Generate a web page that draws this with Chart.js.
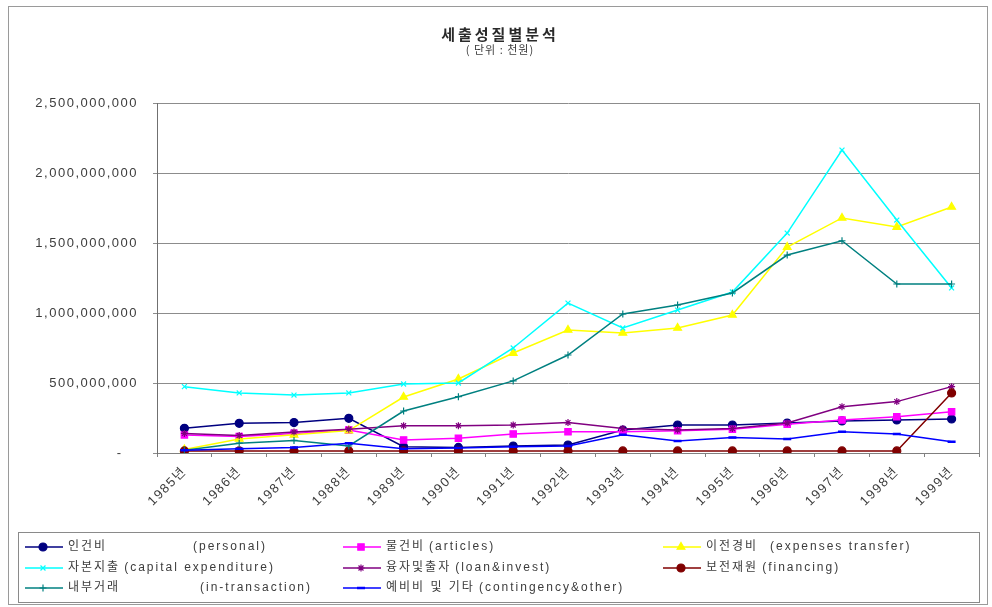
<!DOCTYPE html>
<html>
<head>
<meta charset="utf-8">
<script src="https://cdn.jsdelivr.net/npm/chart.js@4.4.0/dist/chart.umd.min.js"></script>
<style>
  html, body { margin: 0; padding: 0; background: #ffffff; }
  canvas { display: block; }
</style>
</head>
<body>
<canvas id="chart" width="992" height="607"></canvas>
<script>
// 세출 성질별 분석 (단위: 천원), 1985~1999
const years = ['1985년', '1986년', '1987년', '1988년', '1989년', '1990년', '1991년', '1992년',
               '1993년', '1994년', '1995년', '1996년', '1997년', '1998년', '1999년'];

const personal      = [176000000, 212000000, 217000000, 248000000, 45000000, 40000000, 50000000, 57000000,
                       164000000, 200000000, 200000000, 214000000, 229000000, 236000000, 243000000];
const articles      = [129000000, 117000000, 140000000, 164000000, 93000000, 105000000, 136000000, 152000000,
                       152000000, 159000000, 169000000, 205000000, 236000000, 259000000, 295000000];
const transfer      = [25000000, 100000000, 130000000, 160000000, 400000000, 529000000, 714000000, 879000000,
                       857000000, 893000000, 986000000, 1471000000, 1679000000, 1614000000, 1757000000];
const capital       = [474000000, 429000000, 414000000, 429000000, 493000000, 500000000, 750000000, 1071000000,
                       893000000, 1021000000, 1150000000, 1571000000, 2164000000, 1664000000, 1179000000];
const loanInvest    = [140000000, 125000000, 150000000, 170000000, 195000000, 195000000, 200000000, 217000000,
                       175000000, 165000000, 175000000, 214000000, 331000000, 367000000, 474000000];
const financing     = [15000000, 15000000, 15000000, 15000000, 15000000, 15000000, 15000000, 15000000,
                       15000000, 15000000, 15000000, 15000000, 15000000, 15000000, 429000000];
const inTransaction = [20000000, 70000000, 90000000, 50000000, 300000000, 402000000, 515000000, 700000000,
                       993000000, 1057000000, 1143000000, 1414000000, 1516000000, 1207000000, 1207000000];
const contingency   = [20000000, 30000000, 40000000, 70000000, 30000000, 35000000, 45000000, 50000000,
                       130000000, 86000000, 110000000, 100000000, 152000000, 136000000, 81000000];

const yTicks = { min: 0, max: 2500000000, step: 500000000 };

const seriesKor = ['인건비', '물건비', '이전경비', '자본지출', '융자및출자', '보전재원', '내부거래', '예비비 및 기타'];
const seriesEng = ['(personal)', '(articles)', '(expenses transfer)', '(capital expenditure)',
                   '(loan&invest)', '(financing)', '(in-transaction)', '(contingency&other)'];
const seriesData = [personal, articles, transfer, capital, loanInvest, financing, inTransaction, contingency];

// classic spreadsheet series palette and markers
const colors  = ['#000080', '#ff00ff', '#ffff00', '#00ffff', '#800080', '#800000', '#008080', '#0000ff'];
const markers = ['circle', 'rect', 'triangle', 'crossRot', 'star', 'circle', 'cross', 'line'];
const radii   = [4, 4.5, 4.5, 3.5, 3.5, 4, 3.5, 4];

const AFONT = '"Liberation Sans", "Noto Sans CJK KR", sans-serif';
const TEXT = '#3c3c3c';

const datasets = seriesData.map((d, i) => ({
  label: seriesKor[i] + ' ' + seriesEng[i],
  data: d,
  borderColor: colors[i],
  backgroundColor: colors[i],
  borderWidth: 1.5,
  pointStyle: markers[i],
  pointRadius: radii[i],
  pointBorderWidth: markers[i] === 'line' ? 2.5 : 1.2,
  pointBackgroundColor: colors[i],
  pointBorderColor: colors[i],
  tension: 0,
  fill: false,
  order: seriesData.length - i
}));

// wider spacing for the axis labels
const spacing = {
  id: 'spacing',
  beforeDraw(chart) { chart.ctx.letterSpacing = '1.5px'; },
  afterDraw(chart) { chart.ctx.letterSpacing = '0px'; }
};

// title, plot frame, legend box and outer frame
const decor = {
  id: 'decor',
  afterDraw(chart) {
    const ctx = chart.ctx;
    const a = chart.chartArea;
    ctx.save();

    // outer frame
    ctx.strokeStyle = '#9a9a9a';
    ctx.lineWidth = 1;
    ctx.strokeRect(8.5, 6.5, 979, 598);

    // plot area right edge
    ctx.strokeStyle = '#8c8c8c';
    ctx.beginPath();
    ctx.moveTo(Math.round(a.right) + 0.5, a.top);
    ctx.lineTo(Math.round(a.right) + 0.5, a.bottom);
    ctx.stroke();

    // title
    ctx.fillStyle = '#2a2a2a';
    ctx.textAlign = 'center';
    ctx.textBaseline = 'middle';
    ctx.letterSpacing = '3px';
    ctx.font = 'bold 15px "Noto Sans CJK KR", sans-serif';
    ctx.fillText('세출성질별분석', 500, 34);
    ctx.letterSpacing = '1px';
    ctx.font = '11px "Noto Sans CJK KR", sans-serif';
    ctx.fillStyle = TEXT;
    ctx.fillText('( 단위 : 천원)', 500, 50);

    // legend
    ctx.letterSpacing = '0px';
    ctx.strokeStyle = '#8a8a8a';
    ctx.strokeRect(18.5, 532.5, 961, 70);
    const colX = [25, 343, 663];
    const rowY = [547, 568, 588];
    const engX = { 0: 193, 2: 770, 6: 200 };
    chart.data.datasets.forEach((ds, i) => {
      const x = colX[i % 3];
      const y = rowY[Math.floor(i / 3)];
      ctx.strokeStyle = ds.borderColor;
      ctx.lineWidth = 1.5;
      ctx.beginPath();
      ctx.moveTo(x, y);
      ctx.lineTo(x + 38, y);
      ctx.stroke();
      ctx.fillStyle = ds.pointBackgroundColor;
      ctx.strokeStyle = ds.pointBorderColor;
      ctx.lineWidth = ds.pointBorderWidth;
      Chart.helpers.drawPoint(ctx, {
        pointStyle: ds.pointStyle, radius: ds.pointRadius, rotation: 0, borderWidth: ds.pointBorderWidth
      }, x + 18, y);

      ctx.fillStyle = TEXT;
      ctx.textAlign = 'left';
      ctx.textBaseline = 'middle';
      ctx.font = '12px ' + AFONT;
      ctx.letterSpacing = '2px';
      const tx = x + 43;
      ctx.fillText(seriesKor[i], tx, y);
      const kw = ctx.measureText(seriesKor[i]).width;
      ctx.letterSpacing = '2px';
      const ex = engX[i] !== undefined ? engX[i] : tx + kw + 4;
      ctx.fillText(seriesEng[i], ex, y);
    });
    ctx.restore();
  }
};

new Chart(document.getElementById('chart').getContext('2d'), {
  type: 'line',
  data: { labels: years, datasets },
  options: {
    responsive: false,
    animation: false,
    layout: { padding: { top: 103, right: 13, left: 0, bottom: 0 } },
    plugins: {
      legend: { display: false },
      title: { display: false },
      tooltip: { enabled: false }
    },
    scales: {
      x: {
        offset: true,
        grid: { offset: true, drawOnChartArea: false, drawTicks: true, tickLength: 4, color: '#808080' },
        border: { color: '#808080' },
        ticks: {
          autoSkip: false, maxRotation: 45, minRotation: 45, padding: 7,
          color: TEXT, font: { family: AFONT, size: 13 }
        },
        afterFit(s) { s.height = 154; }
      },
      y: {
        min: yTicks.min,
        max: yTicks.max,
        ticks: {
          stepSize: yTicks.step,
          padding: 15,
          color: TEXT,
          font: { family: AFONT, size: 13 },
          callback: v => v === 0 ? '-   ' : Number(v).toLocaleString('en-US')
        },
        grid: { color: '#8c8c8c', tickLength: 4, drawTicks: true },
        border: { color: '#707070' },
        afterFit(s) { s.width = 157; }
      }
    }
  },
  plugins: [spacing, decor]
});
</script>
</body>
</html>
